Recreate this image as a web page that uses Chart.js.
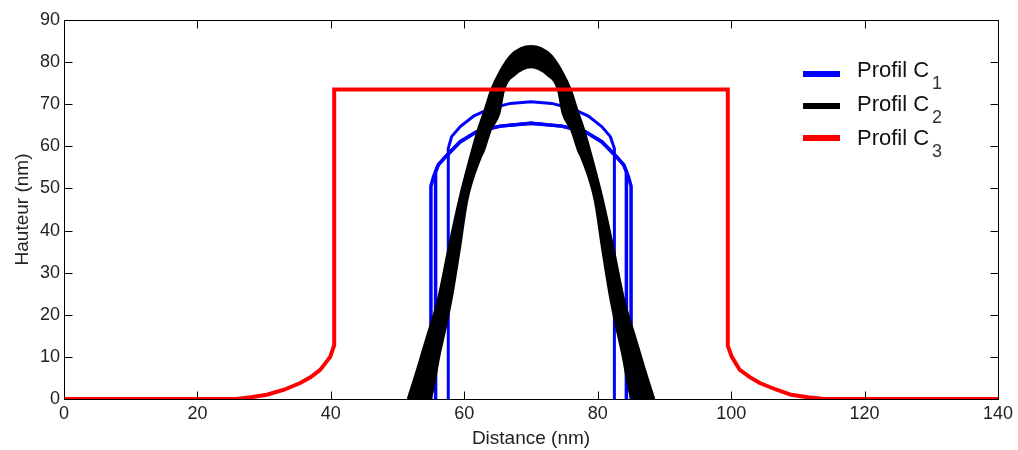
<!DOCTYPE html>
<html>
<head>
<meta charset="utf-8">
<script src="https://cdn.jsdelivr.net/npm/chart.js@4.4.1/dist/chart.umd.min.js"></script>
<style>
  html, body { margin: 0; padding: 0; background: #fff; }
</style>
</head>
<body>
<canvas id="profils" width="1018" height="450"></canvas>
<script>
// Profil C1 : deux profils larges + un profil étroit (bleu)
const c1aX = [55.0, 55.0, 55.4, 56.1, 57.4, 59.4, 61.9, 65.4, 70.0, 74.6, 78.1, 80.6, 82.6, 83.9, 84.6, 85.0, 85.0];
const c1aY = [0, 50.5, 52.8, 55.6, 57.9, 61.1, 63.5, 64.8, 65.5, 64.8, 63.5, 61.1, 57.9, 55.6, 52.8, 50.5, 0];
const c1bX = [55.7, 55.7, 56.1, 57.4, 59.4, 61.9, 65.4, 70.0, 74.6, 78.1, 80.6, 82.6, 83.9, 84.3, 84.3];
const c1bY = [0, 54.0, 55.6, 57.9, 61.1, 63.5, 64.8, 65.5, 64.8, 63.5, 61.1, 57.9, 55.6, 54.0, 0];
const c1cX = [57.6, 57.6, 58.1, 59.4, 61.4, 63.9, 66.9, 70.0, 73.1, 76.1, 78.6, 80.6, 81.9, 82.5, 82.5];
const c1cY = [0, 59.5, 62.3, 64.7, 67.2, 69.0, 70.2, 70.6, 70.2, 69.0, 67.2, 64.7, 62.3, 59.5, 0];

// Profil C2 : bande noire entre un bord extérieur et un bord intérieur
const c2OutX = [51.6, 53.0, 54.5, 56.1, 57.6, 59.3, 60.7, 62.1, 63.2, 64.1, 65.5, 67.0, 68.5, 70.0,
                71.5, 73.0, 74.5, 75.9, 76.8, 77.9, 79.3, 80.7, 82.4, 83.9, 85.5, 87.0, 88.4];
const c2OutY = [0, 7, 15, 23.5, 35, 47.3, 56, 63.9, 69, 73.4, 78, 81.5, 83.2, 83.7,
                83.2, 81.5, 78, 73.4, 69, 63.9, 56, 47.3, 35, 23.5, 15, 7, 0];
const c2InX = [51.6, 54.7, 56.3, 58.0, 59.2, 60.4, 62.3, 62.9, 63.9, 65.2, 65.9, 67.5, 70.0,
               72.5, 74.1, 74.8, 76.1, 77.1, 77.7, 79.6, 80.8, 82.0, 83.7, 85.3, 88.4];
const c2InY = [0, 0, 11, 23.5, 35, 47.3, 57, 59.1, 63.9, 67.9, 73.5, 77, 78.9,
               77, 73.5, 67.9, 63.9, 59.1, 57, 47.3, 35, 23.5, 11, 0, 0];

// Profil C3 : plateau rouge
const c3X = [0, 25.9, 28.0, 30.4, 33.0, 35.4, 37.0, 38.4, 39.9, 40.5, 40.5, 99.5, 99.5,
             100.1, 101.3, 102.8, 104.3, 106.8, 109.0, 111.5, 114.0, 140];
const c3Y = [0, 0, 0.4, 1.0, 2.2, 3.8, 5.2, 6.9, 10.0, 12.8, 73.5, 73.5, 12.6,
             10.0, 6.9, 5.2, 3.8, 2.2, 1.0, 0.4, 0, 0];

// axes
const xTicks = [0, 20, 40, 60, 80, 100, 120, 140];
const yTicks = [0, 10, 20, 30, 40, 50, 60, 70, 80, 90];

// légende
const legendNames = ['Profil C', 'Profil C', 'Profil C'];
const legendSubs = ['1', '2', '3'];
const legendColors = ['#0000ff', '#000000', '#ff0000'];

function pts(xs, ys) {
  return xs.map((x, i) => ({ x: x, y: ys[i] }));
}

function line(data, color, width, order, extra) {
  return Object.assign({
    data: data,
    borderColor: color,
    borderWidth: width,
    pointRadius: 0,
    fill: false,
    tension: 0,
    clip: 0,
    order: order
  }, extra || {});
}

const fontName = "'Liberation Sans', Arial, Helvetica, sans-serif";

// cadre + graduations intérieures (style MATLAB)
const frame = {
  id: 'frame',
  afterDatasetsDraw(chart) {
    const { ctx, scales: { x, y } } = chart;
    const L = 64.5, R = 998.5, T = 20.5, B = 399.5;
    ctx.save();
    ctx.strokeStyle = '#000';
    ctx.lineWidth = 1;
    ctx.beginPath();
    xTicks.forEach(v => {
      const px = Math.round(x.getPixelForValue(v)) + 0.5;
      ctx.moveTo(px, B); ctx.lineTo(px, B - 8);
      ctx.moveTo(px, T); ctx.lineTo(px, T + 8);
    });
    yTicks.forEach(v => {
      const py = Math.round(y.getPixelForValue(v)) + 0.5;
      ctx.moveTo(L, py); ctx.lineTo(L + 8, py);
      ctx.moveTo(R, py); ctx.lineTo(R - 8, py);
    });
    ctx.stroke();
    ctx.strokeRect(L, T, R - L, B - T);
    ctx.restore();
  }
};

// légende avec indices
const legendBox = {
  id: 'legendBox',
  afterDraw(chart) {
    const ctx = chart.ctx;
    ctx.save();
    legendNames.forEach((name, i) => {
      const ly = 74 + 32 * i;
      const ty = 77 + 34 * i;
      ctx.strokeStyle = legendColors[i];
      ctx.lineWidth = 6;
      ctx.beginPath();
      ctx.moveTo(803, ly);
      ctx.lineTo(840, ly);
      ctx.stroke();
      ctx.fillStyle = '#111';
      ctx.textBaseline = 'alphabetic';
      ctx.textAlign = 'left';
      ctx.font = '22px ' + fontName;
      ctx.fillText(name, 857, ty);
      const w = ctx.measureText(name).width;
      ctx.font = '18px ' + fontName;
      ctx.fillStyle = '#333';
      ctx.fillText(legendSubs[i], 857 + w + 3, ty + 12);
    });
    ctx.restore();
  }
};

const smooth = { cubicInterpolationMode: 'monotone' };

new Chart(document.getElementById('profils').getContext('2d'), {
  type: 'line',
  data: {
    datasets: [
      line(pts(c3X, c3Y), '#ff0000', 4, 0),
      line(pts(c2OutX, c2OutY), '#000000', 3, 1, Object.assign({ fill: 4, backgroundColor: '#000000' }, smooth)),
      line(pts(c1aX, c1aY), '#0000ff', 3.5, 2),
      line(pts(c1bX, c1bY), '#0000ff', 3.5, 2),
      line(pts(c2InX, c2InY), '#000000', 3, 1, smooth),
      line(pts(c1cX, c1cY), '#0000ff', 3, 2)
    ]
  },
  options: {
    responsive: false,
    animation: false,
    events: [],
    layout: { padding: { left: 0, right: 20, top: 20, bottom: 0 } },
    plugins: {
      legend: { display: false },
      tooltip: { enabled: false }
    },
    scales: {
      x: {
        type: 'linear',
        min: 0,
        max: 140,
        afterFit: s => { s.height = 51; },
        afterBuildTicks: s => { s.ticks = xTicks.map(v => ({ value: v })); },
        grid: { display: false, drawTicks: false },
        border: { display: false },
        ticks: {
          color: '#222',
          padding: 4,
          maxRotation: 0,
          autoSkip: false,
          font: { family: fontName, size: 18 }
        },
        title: {
          display: true,
          text: 'Distance (nm)',
          color: '#222',
          padding: 0,
          font: { family: fontName, size: 19 }
        }
      },
      y: {
        type: 'linear',
        min: 0,
        max: 90,
        afterFit: s => { s.width = 64; },
        afterBuildTicks: s => { s.ticks = yTicks.map(v => ({ value: v })); },
        grid: { display: false, drawTicks: false },
        border: { display: false },
        ticks: {
          color: '#222',
          padding: 4,
          autoSkip: false,
          font: { family: fontName, size: 18 }
        },
        title: {
          display: true,
          text: 'Hauteur (nm)',
          color: '#222',
          padding: 11,
          font: { family: fontName, size: 19 }
        }
      }
    }
  },
  plugins: [frame, legendBox]
});
</script>
</body>
</html>
